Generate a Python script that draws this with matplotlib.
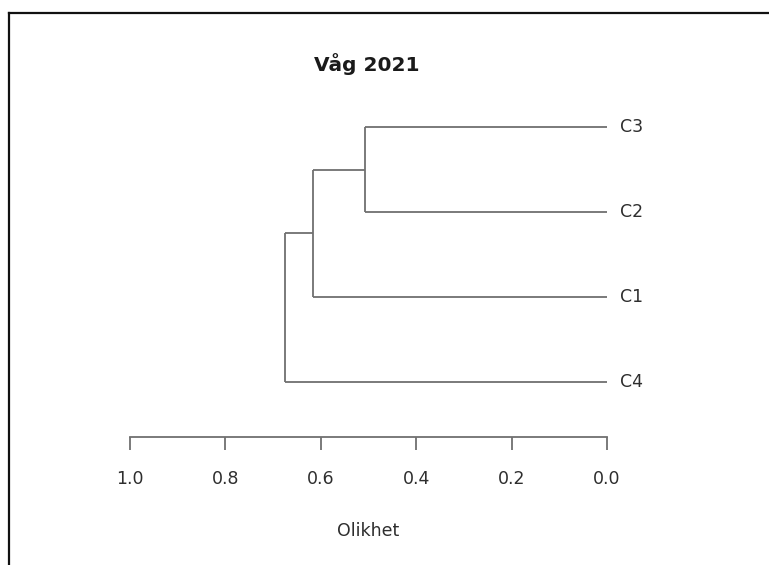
import matplotlib
matplotlib.use("Agg")
import matplotlib.pyplot as plt
from matplotlib.lines import Line2D

plt.rcParams['font.family'] = ['DejaVu Sans']

# Dendrogram data (leaf order top to bottom) and merge heights
leaves = ["C3", "C2", "C1", "C4"]
# each merge joins two clusters (by index: leaves 0..3, then merged clusters 4, 5, ...)
merge_pairs = [(0, 1), (4, 2), (5, 3)]
merge_heights = [0.507, 0.616, 0.675]
tick_values = [1.0, 0.8, 0.6, 0.4, 0.2, 0.0]
title = "Våg 2021"
xlabel = "Olikhet"

W, H = 769, 565
fig = plt.figure(figsize=(W / 100, H / 100), dpi=100)

# Axes placed so that the distance axis spans 1.0 -> 0.0
x0, x1 = 130, 607
ybot, ytop = 437, 84.5
ax = fig.add_axes([x0 / W, 1 - ybot / H, (x1 - x0) / W, (ybot - ytop) / H])
ax.set_xlim(1.0, 0.0)
n = len(leaves)
ax.set_ylim(1 - 55 / 85, n + 0.5)

line_col = "#707070"
txt_col = "#2e2e2e"
lw = 1.3

# leaf positions: top leaf gets highest y
pos = {i: n - i for i in range(n)}
height = {i: 0.0 for i in range(n)}
for k, ((a, b), h) in enumerate(zip(merge_pairs, merge_heights)):
    for c in (a, b):
        ax.plot([height[c], h], [pos[c], pos[c]], color=line_col, lw=lw,
                solid_capstyle="butt")
    ax.plot([h, h], [pos[a], pos[b]], color=line_col, lw=lw,
            solid_capstyle="butt")
    new = n + k
    pos[new] = (pos[a] + pos[b]) / 2
    height[new] = h

for i, name in enumerate(leaves):
    ax.text(-0.027, pos[i], name, ha="left", va="center", fontsize=12.5,
            color=txt_col, clip_on=False)

for s in ("top", "right", "left"):
    ax.spines[s].set_visible(False)
ax.spines["bottom"].set_color(line_col)
ax.spines["bottom"].set_linewidth(lw)
ax.set_yticks([])
ax.set_xticks(tick_values)
ax.set_xticklabels([f"{v:.1f}" for v in tick_values])
ax.tick_params(axis="x", direction="out", length=9, width=lw, color=line_col,
               labelsize=12.5, labelcolor=txt_col, pad=15)

fig.text(367 / W, 1 - 71 / H, title, ha="center", va="baseline",
         fontsize=14.5, fontweight="bold", color="#1a1a1a")
fig.text(368 / W, 1 - 536 / H, xlabel, ha="center", va="baseline",
         fontsize=12.5, color=txt_col)

# frame lines along the top and left edges
fig.add_artist(Line2D([9 / W, 1.0], [1 - 13 / H, 1 - 13 / H],
                      transform=fig.transFigure, color="#111111", lw=1.6))
fig.add_artist(Line2D([9 / W, 9 / W], [1 - 13 / H, 0.0],
                      transform=fig.transFigure, color="#111111", lw=1.6))

fig.savefig("out.png", dpi=100)
